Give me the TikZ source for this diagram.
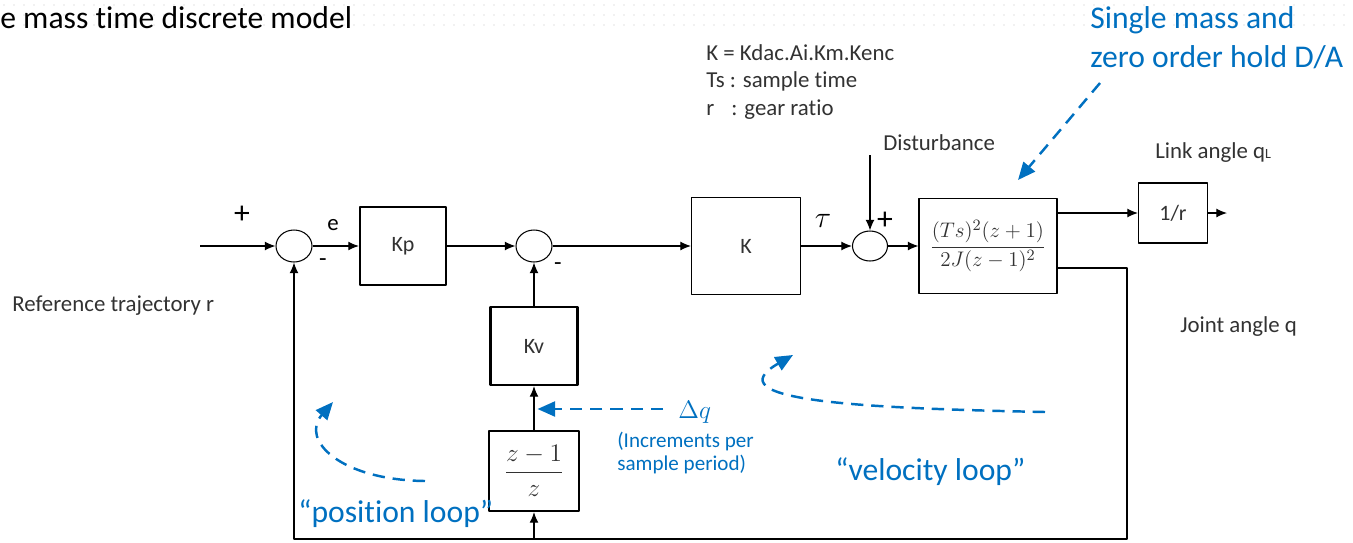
\documentclass[tikz,border=0pt]{standalone}
\usepackage{amsmath}
\usepackage{fontspec}
\setmainfont{Carlito}[RawFeature={-liga;-clig;-calt;-dlig}]
\usetikzlibrary{arrows.meta,shapes.geometric}
\definecolor{slideblue}{RGB}{0,112,192}
\definecolor{labelgray}{RGB}{50,50,50}
\tikzset{
 sig/.style={-{Latex[length=6pt,width=5pt]},line width=.6pt},
 sumnode/.style={draw,ellipse,minimum width=.72cm,minimum height=.64cm,inner sep=0pt,line width=.6pt},
 thickbox/.style={draw,line width=1.3pt,font=\fontsize{12.5}{15}\selectfont,text=labelgray},
 thinbox/.style={draw,line width=.6pt,font=\fontsize{12.5}{15}\selectfont,text=labelgray},
 lbl/.style={font=\fontsize{13}{15}\selectfont,text=labelgray,inner sep=0pt,anchor=base west},
 bigblue/.style={font=\fontsize{18}{22}\selectfont,text=slideblue,inner sep=0pt,anchor=base west},
 bluedash/.style={draw=slideblue,line width=1.4pt,dash pattern=on 7pt off 4.5pt,-{Triangle[length=10pt,width=8.5pt]}}
}
\begin{document}
\begin{tikzpicture}[x=.02cm,y=-.02cm,line join=round]
 \useasboundingbox (0,0) rectangle (1353,542);
 % dotted slide header
 \foreach \gy in {5,15,25}
  \foreach \gx in {4,14,...,1350}
   \fill[gray!22] (\gx,\gy) circle (.5pt);
 \node[font=\fontsize{18}{22}\selectfont,inner sep=0pt,anchor=base west] (title) at (0,28) {e mass time discrete model};
 \node[bigblue] (hold1) at (1090,28) {Single mass and};
 \node[bigblue] (hold2) at (1090,67) {zero order hold D/A};
 \node[lbl] (defk) at (706,60) {K = Kdac.Ai.Km.Kenc};
 \node[lbl] (defts) at (706,87) {Ts : sample time};
 \node[lbl] (defr) at (706,115) {r\hspace{.75em}: gear ratio};
 % blocks
 \node[sumnode] (s1) at (294,246) {};
 \node[thickbox,minimum width=1.72cm,minimum height=1.56cm] (kp) at (403,246) {Kp};
 \node[sumnode] (s2) at (534,246) {};
 \node[thinbox,minimum width=2.18cm,minimum height=1.94cm] (k) at (746,246) {K};
 \node[sumnode,minimum width=.7cm,minimum height=.6cm] (s3) at (870,246) {};
 \node[thinbox,inner xsep=1pt,minimum width=2.76cm,minimum height=1.9cm] (plant) at (988,246) {\fontsize{13}{16}\selectfont$\dfrac{(Ts)^2(z+1)}{2J(z-1)^2}$};
 \node[thinbox,minimum width=1.38cm,minimum height=1.2cm] (ratio) at (1173,213) {1/r};
 \node[thickbox,minimum width=1.74cm,minimum height=1.56cm] (kv) at (534,346) {Kv};
 \node[thickbox,minimum width=1.8cm,minimum height=1.6cm] (zd) at (534,471) {\fontsize{14}{16}\selectfont$\dfrac{z-1}{z}$};
 % signs and labels
 \node[font=\fontsize{18}{20}\selectfont,inner sep=0pt] (p1) at (242,215) {+};
 \node[font=\fontsize{14}{16}\selectfont,inner sep=0pt] (m1) at (323,263) {-};
 \node[font=\fontsize{13}{15}\selectfont,inner sep=0pt] (err) at (333,225) {e};
 \node[font=\fontsize{14}{16}\selectfont,inner sep=0pt] (m2) at (558,267) {-};
 \node[font=\fontsize{16}{18}\selectfont,inner sep=0pt] (tau) at (823,221) {$\tau$};
 \node[font=\fontsize{18}{20}\selectfont,inner sep=0pt] (p3) at (885,221) {+};
 \node[lbl] (distlbl) at (883,150) {Disturbance};
 \node[lbl] (linklbl) at (1155,158) {Link angle q\raisebox{-.5pt}{\fontsize{8}{8}\selectfont L}};
 \node[lbl] (jointlbl) at (1180,332) {Joint angle q};
 \node[lbl] (reflbl) at (12,311) {Reference trajectory r};
 \coordinate (in) at (200,246);
 \coordinate (dist) at (870,155);
 \coordinate (out) at (1227,213);
 \coordinate (jr) at (1127,268);
 \coordinate (jb) at (1127,539);
 % signal path
 \draw[sig] (in) -- (s1);
 \draw[sig] (s1) -- (kp);
 \draw[sig] (kp) -- (s2);
 \draw[sig] (s2) -- (k);
 \draw[sig] (k) -- (s3);
 \draw[sig] (s3) -- (plant);
 \draw[sig] (dist) -- (s3);
 \draw[sig] (plant.east |- ratio) -- (ratio);
 \draw[sig] (ratio) -- (out);
 % feedback
 \draw[sig] (plant.east |- jr) -- (jr) -- (jb) -| (s1.south);
 \draw[sig] (zd.south |- jb) -- (zd.south);
 \draw[sig] (zd) -- (kv);
 \draw[sig] (kv) -- (s2);
 % loop annotations
 \coordinate (dqs) at (663,409);
 \draw[bluedash,shorten >=2pt] (dqs) -- (dqs -| zd.north);
 \node[font=\fontsize{15}{17}\selectfont,text=slideblue,inner sep=0pt,anchor=base west] (dq) at (678,418) {$\Delta q$};
 \node[font=\fontsize{12}{14}\selectfont,text=slideblue,inner sep=0pt,anchor=base west] (inc1) at (617,447) {(Increments per};
 \node[font=\fontsize{12}{14}\selectfont,text=slideblue,inner sep=0pt,anchor=base west] (inc2) at (617,470) {sample period)};
 \coordinate (pl0) at (425,481); \coordinate (pl1) at (333,402);
 \draw[bluedash] (pl0) .. controls (340,480) and (300,440) .. (pl1);
 \coordinate (vl0) at (1045,412); \coordinate (vl1) at (793,355);
 \draw[bluedash] (vl0) .. controls (850,408) and (715,400) .. (vl1);
 \coordinate (da0) at (1100,83); \coordinate (da1) at (1018,180);
 \draw[bluedash] (da0) -- (da1);
 \node[bigblue] (posl) at (298,522) {``position loop''};
 \node[bigblue] (vell) at (835,480) {``velocity loop''};
\end{tikzpicture}
\end{document}
